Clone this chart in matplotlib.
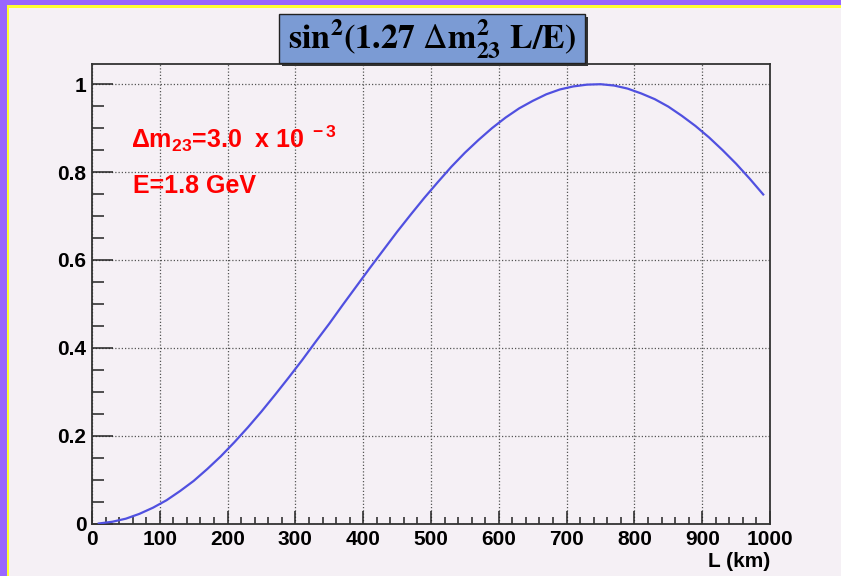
import matplotlib
matplotlib.use("Agg")
import matplotlib.pyplot as plt
from matplotlib.patches import Rectangle
from matplotlib.ticker import MultipleLocator

# Data
L_km = [10, 30, 50, 70, 90, 110, 130, 150, 170, 190, 210, 230, 250, 270, 290,
        310, 330, 350, 370, 390, 410, 430, 450, 470, 490, 510, 530, 550, 570,
        590, 610, 630, 650, 670, 690, 710, 730, 750, 770, 790, 810, 830, 850,
        870, 890, 910, 930, 950, 970, 990]
prob = [0.000, 0.004, 0.011, 0.022, 0.036, 0.053, 0.074, 0.097, 0.124, 0.153,
        0.185, 0.219, 0.255, 0.293, 0.332, 0.372, 0.414, 0.455, 0.498, 0.540,
        0.582, 0.623, 0.664, 0.703, 0.741, 0.777, 0.812, 0.844, 0.873, 0.900,
        0.924, 0.945, 0.962, 0.977, 0.988, 0.995, 0.999, 1.000, 0.997, 0.990,
        0.979, 0.966, 0.949, 0.928, 0.905, 0.879, 0.850, 0.819, 0.785, 0.749]
x_ticks = [0, 100, 200, 300, 400, 500, 600, 700, 800, 900, 1000]
y_ticks = [0, 0.2, 0.4, 0.6, 0.8, 1.0]
y_tick_labels = ["0", "0.2", "0.4", "0.6", "0.8", "1"]
title_text = r"$\mathbf{sin^{2}(1.27\ }\Delta\mathbf{m^{2}_{23}\ L/E)}$"
note1 = r"Δm$_{23}$=3.0  x 10$^{\ -3}$"
note2 = "E=1.8 GeV"
xlabel = "L (km)"

W, H = 841, 576
bg = "#f5f0f5"
plt.rcParams["mathtext.fontset"] = "custom"
plt.rcParams["mathtext.rm"] = "Liberation Sans:bold"
plt.rcParams["mathtext.it"] = "Liberation Sans:bold"
plt.rcParams["mathtext.bf"] = "Liberation Sans:bold"
plt.rcParams["mathtext.sf"] = "Liberation Sans:bold"

fig = plt.figure(figsize=(W / 100, H / 100), dpi=100, facecolor=bg)

# ROOT-like canvas border (purple + yellow) on top and left
fig.patches.append(Rectangle((0, 1 - 5 / H), 1, 5 / H, transform=fig.transFigure,
                             facecolor="#9966ff", edgecolor="none", zorder=0))
fig.patches.append(Rectangle((0, 0), 7 / W, 1, transform=fig.transFigure,
                             facecolor="#9966ff", edgecolor="none", zorder=0))
fig.patches.append(Rectangle((7 / W, 1 - 8 / H), 1, 3 / H, transform=fig.transFigure,
                             facecolor="#ffff33", edgecolor="none", zorder=0))
fig.patches.append(Rectangle((7 / W, 0), 2 / W, 1 - 5 / H, transform=fig.transFigure,
                             facecolor="#ffff33", edgecolor="none", zorder=0))

left, right = 92 / W, 770 / W
bottom, top = 1 - 523.5 / H, 1 - 64 / H
ax = fig.add_axes([left, bottom, right - left, top - bottom])
ax.set_facecolor(bg)

ax.plot(L_km, prob, color="#5050e0", lw=1.6, zorder=3)

ax.set_xlim(0, 1000)
ax.set_ylim(0, 1.046)
ax.set_xticks(x_ticks)
ax.set_xticklabels([str(t) for t in x_ticks])
ax.set_yticks(y_ticks)
ax.set_yticklabels(y_tick_labels)
ax.xaxis.set_minor_locator(MultipleLocator(20))
ax.yaxis.set_minor_locator(MultipleLocator(0.05))

tick_font = dict(family="Liberation Sans", weight="bold", size=15)
for lab in ax.get_xticklabels() + ax.get_yticklabels():
    lab.set_fontfamily("Liberation Sans")
    lab.set_fontweight("bold")
    lab.set_fontsize(15)

ax.tick_params(axis="x", which="major", direction="in", length=9.5, width=1.1,
               color="#222222", pad=4.5)
ax.tick_params(axis="x", which="minor", direction="in", length=5, width=1.1,
               color="#222222")
ax.tick_params(axis="y", which="major", direction="in", length=15, width=1.1,
               color="#222222", pad=4)
ax.tick_params(axis="y", which="minor", direction="in", length=8.5, width=1.1,
               color="#222222")

ax.grid(True, which="major", linestyle=(0, (1, 1.6)), linewidth=0.9,
        color="#555555", zorder=1)
ax.set_axisbelow(True)

for s in ax.spines.values():
    s.set_color("#333333")
    s.set_linewidth(1.3)

ax.set_xlabel(xlabel, loc="right", fontdict=tick_font, labelpad=2)

# Red annotations
fig.text(131 / W, 1 - 148 / H, note1, color="#ff0000", fontsize=18,
         fontfamily="Liberation Sans", fontweight="bold", va="baseline", ha="left",
         math_fontfamily="custom")
fig.text(133 / W, 1 - 193 / H, note2, color="#ff0000", fontsize=18,
         fontfamily="Liberation Sans", fontweight="bold", va="baseline", ha="left")

# Title box with shadow
bx0, bx1 = 279 / W, 585 / W
by0, by1 = 1 - 63 / H, 1 - 14 / H
fig.patches.append(Rectangle((bx0 + 3 / W, by0 - 3 / H), bx1 - bx0, by1 - by0,
                             transform=fig.transFigure, facecolor="#333333",
                             edgecolor="none", zorder=5))
fig.patches.append(Rectangle((bx0, by0), bx1 - bx0, by1 - by0,
                             transform=fig.transFigure, facecolor="#7b9bd4",
                             edgecolor="#222222", lw=1.0, zorder=6))
fig.text((bx0 + bx1) / 2, (by0 + by1) / 2 - 1 / H, title_text, fontsize=24.5,
         ha="center", va="center", zorder=7, math_fontfamily="stix")

fig.savefig("out.png", dpi=100, facecolor=bg)
